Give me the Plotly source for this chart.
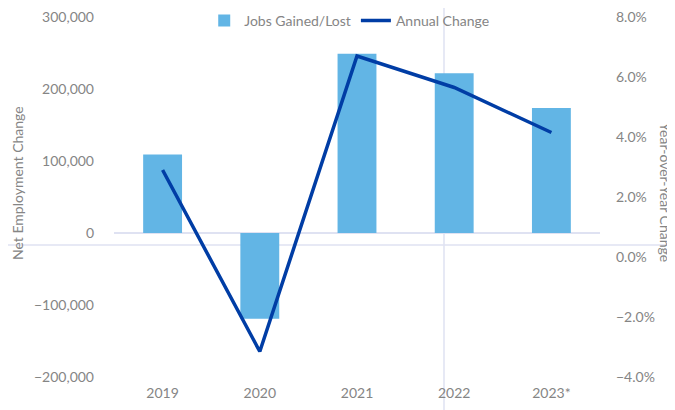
import plotly.graph_objects as go

# ── Data ──────────────────────────────────────────────────────────────────
YEARS = ["2019", "2020", "2021", "2022", "2023*"]
JOBS_GAINED_LOST = [109000, -119000, 249000, 222000, 173500]
ANNUAL_CHANGE_PCT = [2.9, -3.15, 6.7, 5.65, 4.15]

# ── Styling ───────────────────────────────────────────────────────────────
BAR_COLOUR = "#62B5E5"
LINE_COLOUR = "#003DA5"
TEXT_COLOUR = "#858585"
RULE_COLOUR = "#DFE2F2"
FONT = "Lato, 'Open Sans', sans-serif"

# the page body keeps its default 8px margin, so the figure is 16px smaller
fig = go.Figure()

fig.add_trace(
    go.Bar(
        x=YEARS,
        y=JOBS_GAINED_LOST,
        name="Jobs Gained/Lost",
        marker=dict(color=BAR_COLOUR, line=dict(width=0)),
        yaxis="y",
    )
)

fig.add_trace(
    go.Scatter(
        x=YEARS,
        y=ANNUAL_CHANGE_PCT,
        name="Annual Change",
        mode="lines",
        line=dict(color=LINE_COLOUR, width=3.5),
        yaxis="y2",
    )
)

fig.update_layout(
    width=667,
    height=402,
    paper_bgcolor="white",
    plot_bgcolor="white",
    font=dict(family=FONT, size=14, color=TEXT_COLOUR),
    margin=dict(l=106, r=75, t=9, b=33, autoexpand=False),
    bargap=0.6,
    showlegend=True,
    legend=dict(
        orientation="h",
        x=0.484,
        xanchor="center",
        y=0.989,
        yanchor="middle",
        bgcolor="rgba(0,0,0,0)",
        font=dict(size=14, color=TEXT_COLOUR),
        traceorder="normal",
    ),
    xaxis=dict(
        automargin=False,
        showgrid=False,
        showline=False,
        ticks="",
        ticklabelstandoff=6,
        tickfont=dict(size=14, color=TEXT_COLOUR),
    ),
    yaxis=dict(
        automargin=False,
        range=[-200000, 300000],
        dtick=100000,
        tickformat=",",
        showgrid=False,
        zeroline=True,
        zerolinecolor=RULE_COLOUR,
        zerolinewidth=1.5,
        ticklabelstandoff=19,
        ticklabeloverflow="allow",
        tickfont=dict(size=14, color=TEXT_COLOUR),
    ),
    yaxis2=dict(
        automargin=False,
        overlaying="y",
        side="right",
        range=[-4, 8],
        dtick=2,
        tickformat=".1f",
        ticksuffix="%",
        showgrid=False,
        zeroline=False,
        ticklabelstandoff=15,
        ticklabeloverflow="allow",
        tickfont=dict(size=14, color=TEXT_COLOUR),
    ),
    annotations=[
        dict(
            text="Net Employment Change",
            xref="paper", yref="paper",
            x=-0.1975, y=0.539,
            xanchor="center", yanchor="middle",
            showarrow=False, textangle=-90,
            font=dict(size=14, color=TEXT_COLOUR),
        ),
        dict(
            text="Year-over-Year Change",
            xref="paper", yref="paper",
            x=1.134, y=0.514,
            xanchor="center", yanchor="middle",
            showarrow=False, textangle=90,
            font=dict(size=14, color=TEXT_COLOUR),
        ),
    ],
    shapes=[
        # faint crosshair guides visible in the source image
        dict(type="line", xref="paper", yref="paper",
             x0=0.679, x1=0.679, y0=-0.1, y1=1.03,
             line=dict(color=RULE_COLOUR, width=1.5), layer="below"),
        dict(type="line", xref="paper", yref="paper",
             x0=-0.23, x1=1.16, y0=0.3667, y1=0.3667,
             line=dict(color=RULE_COLOUR, width=1.5), layer="below"),
    ],
)

fig.write_html("out.html")
